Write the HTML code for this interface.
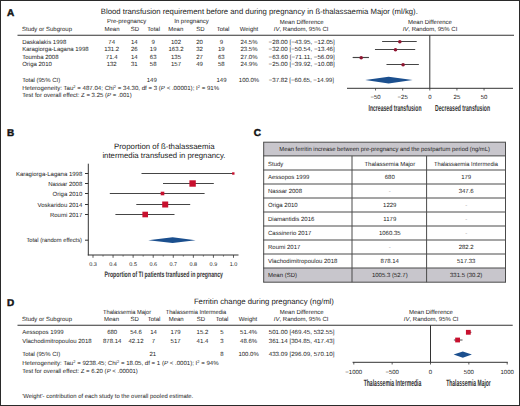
<!DOCTYPE html>
<html><head><meta charset="utf-8"><style>
html,body{margin:0;padding:0;background:#fff;}
#wrap{position:relative;width:520px;height:406px;overflow:hidden;background:#fff;}
svg{display:block;}
svg text{font-family:"Liberation Sans",sans-serif;text-rendering:geometricPrecision;}
</style></head><body><div id="wrap">
<svg width="520" height="406" viewBox="0 0 520 406">
<rect x="0.5" y="0.5" width="519" height="405" fill="#fff" stroke="#2a2a2a" stroke-width="1"/>
<g fill="#222">
<text x="7" y="15.6" font-size="10" fill="#111" font-weight="bold" stroke="#111" stroke-width="0.45">A</text>
<text x="100.8" y="13.8" font-size="7.75" textLength="317" lengthAdjust="spacingAndGlyphs">Blood transfusion requirement before and during pregnancy in ß-thalassaemia Major (ml/kg).</text>
<text x="126.6" y="23.4" font-size="6.0" text-anchor="middle">Pre-pregnancy</text>
<text x="191.5" y="23.4" font-size="6.0" text-anchor="middle">In pregnancy</text>
<text x="301.7" y="23.6" font-size="6.0" text-anchor="middle">Mean Difference</text>
<text x="430" y="23.6" font-size="6.0" text-anchor="middle">Mean Difference</text>
<text x="22" y="30.6" font-size="6.0">Study or Subgroup</text>
<text x="112" y="30.6" font-size="6.0" text-anchor="middle">Mean</text>
<text x="135" y="30.6" font-size="6.0" text-anchor="middle">SD</text>
<text x="153.7" y="30.6" font-size="6.0" text-anchor="middle">Total</text>
<text x="175.8" y="30.6" font-size="6.0" text-anchor="middle">Mean</text>
<text x="200.3" y="30.6" font-size="6.0" text-anchor="middle">SD</text>
<text x="223" y="30.6" font-size="6.0" text-anchor="middle">Total</text>
<text x="249" y="30.6" font-size="6.0" text-anchor="middle">Weight</text>
<text x="301.2" y="30.6" font-size="6.0" text-anchor="middle"><tspan font-style="italic">IV</tspan>, Random, 95% CI</text>
<text x="430" y="30.6" font-size="6.0" text-anchor="middle"><tspan font-style="italic">IV</tspan>, Random, 95% CI</text>
<line x1="17.5" y1="35.2" x2="514" y2="35.2" stroke="#333" stroke-width="1.1"/>
<text x="22.2" y="43.5" font-size="6.0">Daskalakis 1998</text>
<text x="111.7" y="43.5" font-size="6.0" text-anchor="middle">74</text>
<text x="134.3" y="43.5" font-size="6.0" text-anchor="middle">14</text>
<text x="153.2" y="43.5" font-size="6.0" text-anchor="middle">9</text>
<text x="176" y="43.5" font-size="6.0" text-anchor="middle">102</text>
<text x="199.5" y="43.5" font-size="6.0" text-anchor="middle">20</text>
<text x="221.3" y="43.5" font-size="6.0" text-anchor="middle">9</text>
<text x="249" y="43.5" font-size="6.0" text-anchor="middle">24.5%</text>
<text x="334.8" y="43.5" font-size="6.0" text-anchor="end" textLength="66.2" lengthAdjust="spacingAndGlyphs">−28.00 [−43.95, −12.05]</text>
<line x1="382.11425" y1="41.5" x2="416.72575" y2="41.5" stroke="#454545" stroke-width="1.15"/>
<circle cx="399.82" cy="41.7" r="1.8" fill="#8e1530"/>
<text x="22.2" y="51.15" font-size="6.0">Karagiorga-Lagana 1998</text>
<text x="111.7" y="51.15" font-size="6.0" text-anchor="middle">131.2</text>
<text x="134.3" y="51.15" font-size="6.0" text-anchor="middle">26</text>
<text x="153.2" y="51.15" font-size="6.0" text-anchor="middle">19</text>
<text x="176" y="51.15" font-size="6.0" text-anchor="middle">163.2</text>
<text x="199.5" y="51.15" font-size="6.0" text-anchor="middle">32</text>
<text x="221.3" y="51.15" font-size="6.0" text-anchor="middle">19</text>
<text x="249" y="51.15" font-size="6.0" text-anchor="middle">23.5%</text>
<text x="334.8" y="51.15" font-size="6.0" text-anchor="end" textLength="66.2" lengthAdjust="spacingAndGlyphs">−32.00 [−50.54, −13.46]</text>
<line x1="374.96410000000003" y1="49.5" x2="415.1959" y2="49.5" stroke="#454545" stroke-width="1.15"/>
<circle cx="395.48" cy="49.7" r="1.8" fill="#8e1530"/>
<text x="22.2" y="58.8" font-size="6.0">Toumba 2008</text>
<text x="111.7" y="58.8" font-size="6.0" text-anchor="middle">71.4</text>
<text x="134.3" y="58.8" font-size="6.0" text-anchor="middle">14</text>
<text x="153.2" y="58.8" font-size="6.0" text-anchor="middle">63</text>
<text x="176" y="58.8" font-size="6.0" text-anchor="middle">135</text>
<text x="199.5" y="58.8" font-size="6.0" text-anchor="middle">27</text>
<text x="221.3" y="58.8" font-size="6.0" text-anchor="middle">63</text>
<text x="249" y="58.8" font-size="6.0" text-anchor="middle">27.0%</text>
<text x="334.8" y="58.8" font-size="6.0" text-anchor="end" textLength="66.2" lengthAdjust="spacingAndGlyphs">−63.60 [−71.11, −56.09]</text>
<line x1="352.64565000000005" y1="57.5" x2="368.94235000000003" y2="57.5" stroke="#454545" stroke-width="1.15"/>
<circle cx="361.19399999999996" cy="57.7" r="1.8" fill="#8e1530"/>
<text x="22.2" y="66.45" font-size="6.0">Origa 2010</text>
<text x="111.7" y="66.45" font-size="6.0" text-anchor="middle">132</text>
<text x="134.3" y="66.45" font-size="6.0" text-anchor="middle">31</text>
<text x="153.2" y="66.45" font-size="6.0" text-anchor="middle">58</text>
<text x="176" y="66.45" font-size="6.0" text-anchor="middle">157</text>
<text x="199.5" y="66.45" font-size="6.0" text-anchor="middle">49</text>
<text x="221.3" y="66.45" font-size="6.0" text-anchor="middle">58</text>
<text x="249" y="66.45" font-size="6.0" text-anchor="middle">24.9%</text>
<text x="334.8" y="66.45" font-size="6.0" text-anchor="end" textLength="66.2" lengthAdjust="spacingAndGlyphs">−25.00 [−39.92, −10.08]</text>
<line x1="386.4868" y1="64.5" x2="418.8632" y2="64.5" stroke="#454545" stroke-width="1.15"/>
<circle cx="403.075" cy="64.7" r="1.8" fill="#8e1530"/>
<text x="22.2" y="81.8" font-size="6.0">Total (95% CI)</text>
<text x="151.8" y="81.8" font-size="6.0" text-anchor="middle">149</text>
<text x="221.5" y="81.8" font-size="6.0" text-anchor="middle">149</text>
<text x="249" y="81.8" font-size="6.0" text-anchor="middle">100.0%</text>
<text x="334.0" y="81.8" font-size="6.0" text-anchor="end" textLength="65.3" lengthAdjust="spacingAndGlyphs">−37.82 [−60.65, −14.99]</text>
<polygon points="365.2,80.1 388.6,76.69999999999999 412.6,80.1 388.6,83.5" fill="#1b4f8e"/>
<text x="22.2" y="89.7" font-size="6.0" textLength="197" lengthAdjust="spacingAndGlyphs">Heterogeneity: Tau<tspan font-size="4" dy="-2.2">2</tspan><tspan dy="2.2"> = 487.04; Chi</tspan><tspan font-size="4" dy="-2.2">2</tspan><tspan dy="2.2"> = 34.30, df = 3 (</tspan><tspan font-style="italic">P</tspan> &lt; .00001); I<tspan font-size="4" dy="-2.2">2</tspan><tspan dy="2.2"> = 91%</tspan></text>
<text x="22.2" y="97.1" font-size="6.0" textLength="109.5" lengthAdjust="spacingAndGlyphs">Test for overall effect: Z = 3.25 (<tspan font-style="italic">P</tspan> = .001)</text>
<line x1="429.8" y1="35.2" x2="429.8" y2="88.3" stroke="#333" stroke-width="1"/>
<line x1="347" y1="88.3" x2="513" y2="88.3" stroke="#333" stroke-width="1"/>
<line x1="375.55" y1="88.3" x2="375.55" y2="90.5" stroke="#333" stroke-width="0.8"/>
<text x="375.55" y="99" font-size="6.0" text-anchor="middle">−50</text>
<line x1="402.675" y1="88.3" x2="402.675" y2="90.5" stroke="#333" stroke-width="0.8"/>
<text x="402.675" y="99" font-size="6.0" text-anchor="middle">−25</text>
<line x1="429.8" y1="88.3" x2="429.8" y2="90.5" stroke="#333" stroke-width="0.8"/>
<text x="429.8" y="99" font-size="6.0" text-anchor="middle">0</text>
<line x1="456.925" y1="88.3" x2="456.925" y2="90.5" stroke="#333" stroke-width="0.8"/>
<text x="456.925" y="99" font-size="6.0" text-anchor="middle">25</text>
<line x1="484.05" y1="88.3" x2="484.05" y2="90.5" stroke="#333" stroke-width="0.8"/>
<text x="484.05" y="99" font-size="6.0" text-anchor="middle">50</text>
<text x="395" y="110.6" font-size="8.8" text-anchor="middle" fill="#333" font-weight="bold" textLength="53" lengthAdjust="spacingAndGlyphs">Increased transfusion</text>
<text x="462.6" y="110.6" font-size="8.8" text-anchor="middle" fill="#333" font-weight="bold" textLength="55" lengthAdjust="spacingAndGlyphs">Decreased transfusion</text>
<text x="7" y="135.9" font-size="10" fill="#111" font-weight="bold" stroke="#111" stroke-width="0.45">B</text>
<text x="164.3" y="148.8" font-size="7.8" text-anchor="middle" textLength="100.6" lengthAdjust="spacingAndGlyphs">Proportion of ß-thalassaemia</text>
<text x="163.9" y="157.6" font-size="7.8" text-anchor="middle" textLength="123" lengthAdjust="spacingAndGlyphs">intermedia transfused in pregnancy.</text>
<line x1="88.3" y1="163.7" x2="88.3" y2="255.4" stroke="#333" stroke-width="1"/>
<line x1="87.8" y1="255" x2="238.5" y2="255" stroke="#333" stroke-width="1"/>
<text x="82.3" y="175.6" font-size="6.0" text-anchor="end">Karagiorga-Lagana 1998</text>
<line x1="85" y1="173.5" x2="88.3" y2="173.5" stroke="#333" stroke-width="1"/>
<line x1="141.5" y1="173.5" x2="233.8" y2="173.5" stroke="#454545" stroke-width="1.1"/>
<rect x="232.10000000000002" y="172.3" width="2.4" height="2.4" fill="#c8102e"/>
<text x="82.3" y="185.6" font-size="6.0" text-anchor="end">Nassar 2008</text>
<line x1="85" y1="183.5" x2="88.3" y2="183.5" stroke="#333" stroke-width="1"/>
<line x1="163.0" y1="183.5" x2="213.8" y2="183.5" stroke="#454545" stroke-width="1.1"/>
<rect x="189.4" y="180.3" width="6.4" height="6.4" fill="#c8102e"/>
<text x="82.3" y="195.6" font-size="6.0" text-anchor="end">Origa 2010</text>
<line x1="85" y1="193.5" x2="88.3" y2="193.5" stroke="#333" stroke-width="1"/>
<line x1="109.8" y1="193.5" x2="204.6" y2="193.5" stroke="#454545" stroke-width="1.1"/>
<rect x="160.7" y="191.7" width="3.6" height="3.6" fill="#c8102e"/>
<text x="82.3" y="206.6" font-size="6.0" text-anchor="end">Voskaridou 2014</text>
<line x1="85" y1="204.5" x2="88.3" y2="204.5" stroke="#333" stroke-width="1"/>
<line x1="136.3" y1="204.5" x2="190.2" y2="204.5" stroke="#454545" stroke-width="1.1"/>
<rect x="162.2" y="201.5" width="6.0" height="6.0" fill="#c8102e"/>
<text x="82.3" y="216.6" font-size="6.0" text-anchor="end">Roumi 2017</text>
<line x1="85" y1="214.5" x2="88.3" y2="214.5" stroke="#333" stroke-width="1"/>
<line x1="115.4" y1="214.5" x2="174.5" y2="214.5" stroke="#454545" stroke-width="1.1"/>
<rect x="142.39999999999998" y="211.7" width="5.6" height="5.6" fill="#c8102e"/>
<text x="82.0" y="242.29999999999998" font-size="6.0" text-anchor="end" textLength="55.6" lengthAdjust="spacingAndGlyphs">Total (random effects)</text>
<line x1="85" y1="240.2" x2="88.3" y2="240.2" stroke="#333" stroke-width="1"/>
<polygon points="148.2,240.2 172.6,237.29999999999998 195.6,240.2 172.6,243.1" fill="#1b4f8e"/>
<line x1="93.0" y1="255" x2="93.0" y2="257.8" stroke="#333" stroke-width="0.8"/>
<text x="93.0" y="265.6" font-size="5.5" text-anchor="middle">0.3</text>
<line x1="113.07000000000001" y1="255" x2="113.07000000000001" y2="257.8" stroke="#333" stroke-width="0.8"/>
<text x="113.07000000000001" y="265.6" font-size="5.5" text-anchor="middle">0.4</text>
<line x1="133.14" y1="255" x2="133.14" y2="257.8" stroke="#333" stroke-width="0.8"/>
<text x="133.14" y="265.6" font-size="5.5" text-anchor="middle">0.5</text>
<line x1="153.21" y1="255" x2="153.21" y2="257.8" stroke="#333" stroke-width="0.8"/>
<text x="153.21" y="265.6" font-size="5.5" text-anchor="middle">0.6</text>
<line x1="173.27999999999997" y1="255" x2="173.27999999999997" y2="257.8" stroke="#333" stroke-width="0.8"/>
<text x="173.27999999999997" y="265.6" font-size="5.5" text-anchor="middle">0.7</text>
<line x1="193.35" y1="255" x2="193.35" y2="257.8" stroke="#333" stroke-width="0.8"/>
<text x="193.35" y="265.6" font-size="5.5" text-anchor="middle">0.8</text>
<line x1="213.42000000000002" y1="255" x2="213.42000000000002" y2="257.8" stroke="#333" stroke-width="0.8"/>
<text x="213.42000000000002" y="265.6" font-size="5.5" text-anchor="middle">0.9</text>
<line x1="233.48999999999998" y1="255" x2="233.48999999999998" y2="257.8" stroke="#333" stroke-width="0.8"/>
<text x="233.48999999999998" y="265.6" font-size="5.5" text-anchor="middle">1.0</text>
<line x1="103.035" y1="255" x2="103.035" y2="256.6" stroke="#333" stroke-width="0.6"/>
<line x1="123.10499999999999" y1="255" x2="123.10499999999999" y2="256.6" stroke="#333" stroke-width="0.6"/>
<line x1="143.175" y1="255" x2="143.175" y2="256.6" stroke="#333" stroke-width="0.6"/>
<line x1="163.245" y1="255" x2="163.245" y2="256.6" stroke="#333" stroke-width="0.6"/>
<line x1="183.315" y1="255" x2="183.315" y2="256.6" stroke="#333" stroke-width="0.6"/>
<line x1="203.385" y1="255" x2="203.385" y2="256.6" stroke="#333" stroke-width="0.6"/>
<line x1="223.455" y1="255" x2="223.455" y2="256.6" stroke="#333" stroke-width="0.6"/>
<text x="163.7" y="277.0" font-size="8.0" text-anchor="middle" fill="#333" font-weight="bold" textLength="118.4" lengthAdjust="spacingAndGlyphs">Proportion of TI patients tranfused in pregnancy</text>
<text x="253.8" y="135.9" font-size="10" fill="#111" font-weight="bold" stroke="#111" stroke-width="0.45">C</text>
<rect x="263.7" y="142.2" width="241.8" height="13.8" fill="#c8c6cc"/>
<rect x="263.7" y="268" width="241.8" height="14.2" fill="#c8c6cc"/>
<line x1="263.2" y1="142.2" x2="506.0" y2="142.2" stroke="#4a4a4a" stroke-width="1"/>
<line x1="263.2" y1="155.9" x2="506.0" y2="155.9" stroke="#4a4a4a" stroke-width="1"/>
<line x1="263.2" y1="170" x2="506.0" y2="170" stroke="#4a4a4a" stroke-width="1"/>
<line x1="263.2" y1="184" x2="506.0" y2="184" stroke="#4a4a4a" stroke-width="1"/>
<line x1="263.2" y1="198" x2="506.0" y2="198" stroke="#4a4a4a" stroke-width="1"/>
<line x1="263.2" y1="212" x2="506.0" y2="212" stroke="#4a4a4a" stroke-width="1"/>
<line x1="263.2" y1="226" x2="506.0" y2="226" stroke="#4a4a4a" stroke-width="1"/>
<line x1="263.2" y1="240" x2="506.0" y2="240" stroke="#4a4a4a" stroke-width="1"/>
<line x1="263.2" y1="254" x2="506.0" y2="254" stroke="#4a4a4a" stroke-width="1"/>
<line x1="263.2" y1="268" x2="506.0" y2="268" stroke="#4a4a4a" stroke-width="1"/>
<line x1="263.2" y1="282.2" x2="506.0" y2="282.2" stroke="#4a4a4a" stroke-width="1"/>
<line x1="263.7" y1="142.2" x2="263.7" y2="282.2" stroke="#4a4a4a" stroke-width="1"/>
<line x1="505.5" y1="142.2" x2="505.5" y2="282.2" stroke="#4a4a4a" stroke-width="1"/>
<line x1="352" y1="155.9" x2="352" y2="282.2" stroke="#4a4a4a" stroke-width="1"/>
<line x1="426.6" y1="155.9" x2="426.6" y2="282.2" stroke="#4a4a4a" stroke-width="1"/>
<text x="384.6" y="151.0" font-size="6.0" text-anchor="middle" textLength="210.6" lengthAdjust="spacingAndGlyphs">Mean ferritin increase between pre-pregnancy and the postpartum period (ng/mL)</text>
<text x="268" y="166.1" font-size="6.0">Study</text>
<text x="389.8" y="166.1" font-size="6.0" text-anchor="middle">Thalassemia Major</text>
<text x="466" y="166.1" font-size="6.0" text-anchor="middle" textLength="64" lengthAdjust="spacingAndGlyphs">Thalassaemia Intermedia</text>
<text x="268" y="179.2" font-size="6.0">Aessopos 1999</text>
<text x="389.8" y="179.2" font-size="6.0" text-anchor="middle">680</text>
<text x="466.2" y="179.2" font-size="6.0" text-anchor="middle">179</text>
<text x="268" y="193.2" font-size="6.0">Nassar 2008</text>
<text x="389.8" y="193.2" font-size="6.0" text-anchor="middle" fill="#aaa">-</text>
<text x="466.2" y="193.2" font-size="6.0" text-anchor="middle">347.6</text>
<text x="268" y="207.2" font-size="6.0">Origa 2010</text>
<text x="389.8" y="207.2" font-size="6.0" text-anchor="middle">1229</text>
<text x="466.2" y="207.2" font-size="6.0" text-anchor="middle" fill="#aaa">-</text>
<text x="268" y="221.2" font-size="6.0">Diamantidis 2016</text>
<text x="389.8" y="221.2" font-size="6.0" text-anchor="middle">1179</text>
<text x="466.2" y="221.2" font-size="6.0" text-anchor="middle" fill="#aaa">-</text>
<text x="268" y="235.2" font-size="6.0">Cassinerio 2017</text>
<text x="389.8" y="235.2" font-size="6.0" text-anchor="middle">1060.35</text>
<text x="466.2" y="235.2" font-size="6.0" text-anchor="middle" fill="#aaa">-</text>
<text x="268" y="249.2" font-size="6.0">Roumi 2017</text>
<text x="389.8" y="249.2" font-size="6.0" text-anchor="middle" fill="#aaa">-</text>
<text x="466.2" y="249.2" font-size="6.0" text-anchor="middle">282.2</text>
<text x="268" y="263.2" font-size="6.0">Vlachodimitropoulou 2018</text>
<text x="389.8" y="263.2" font-size="6.0" text-anchor="middle">878.14</text>
<text x="466.2" y="263.2" font-size="6.0" text-anchor="middle">517.33</text>
<text x="268" y="277.2" font-size="6.0">Mean (SD)</text>
<text x="389.8" y="277.2" font-size="6.0" text-anchor="middle">1005.3 (52.7)</text>
<text x="466.2" y="277.2" font-size="6.0" text-anchor="middle">331.5 (30.2)</text>
<text x="7" y="305.9" font-size="10" fill="#111" font-weight="bold" stroke="#111" stroke-width="0.45">D</text>
<text x="193.9" y="303.6" font-size="7.75" textLength="140" lengthAdjust="spacingAndGlyphs">Ferritin change during pregnancy (ng/ml)</text>
<text x="127.1" y="313.6" font-size="6.0" text-anchor="middle" textLength="48.2" lengthAdjust="spacingAndGlyphs">Thalassemia Major</text>
<text x="196" y="313.6" font-size="6.0" text-anchor="middle" textLength="60.5" lengthAdjust="spacingAndGlyphs">Thalassemia Intermedia</text>
<text x="301.7" y="314.2" font-size="6.0" text-anchor="middle">Mean Difference</text>
<text x="431" y="314.2" font-size="6.0" text-anchor="middle">Mean Difference</text>
<text x="22" y="320.9" font-size="6.0">Study or Subgroup</text>
<text x="111.5" y="320.9" font-size="6.0" text-anchor="middle">Mean</text>
<text x="134.6" y="320.9" font-size="6.0" text-anchor="middle">SD</text>
<text x="154" y="320.9" font-size="6.0" text-anchor="middle">Total</text>
<text x="176.2" y="320.9" font-size="6.0" text-anchor="middle">Mean</text>
<text x="201" y="320.9" font-size="6.0" text-anchor="middle">SD</text>
<text x="222" y="320.9" font-size="6.0" text-anchor="middle">Total</text>
<text x="248" y="320.9" font-size="6.0" text-anchor="middle">Weight</text>
<text x="301.2" y="320.9" font-size="6.0" text-anchor="middle"><tspan font-style="italic">IV</tspan>, Random, 95% CI</text>
<text x="431.2" y="320.9" font-size="6.0" text-anchor="middle"><tspan font-style="italic">IV</tspan>, Random, 95% CI</text>
<line x1="17.5" y1="325.2" x2="512.7" y2="325.2" stroke="#333" stroke-width="1.1"/>
<text x="22.2" y="334.0" font-size="6.0">Aessopos 1999</text>
<text x="112.2" y="334.0" font-size="6.0" text-anchor="middle">680</text>
<text x="136" y="334.0" font-size="6.0" text-anchor="middle">54.6</text>
<text x="153.5" y="334.0" font-size="6.0" text-anchor="middle">14</text>
<text x="175.6" y="334.0" font-size="6.0" text-anchor="middle">179</text>
<text x="202.4" y="334.0" font-size="6.0" text-anchor="middle">15.2</text>
<text x="222" y="334.0" font-size="6.0" text-anchor="middle">5</text>
<text x="248.6" y="334.0" font-size="6.0" text-anchor="middle">51.4%</text>
<text x="334.4" y="334.0" font-size="6.0" text-anchor="end" textLength="65.7" lengthAdjust="spacingAndGlyphs">501.00 [469.45, 532.55]</text>
<line x1="466.506815" y1="332.3" x2="471.346585" y2="332.3" stroke="#4d4d4d" stroke-width="1"/>
<rect x="465.9267" y="329.90000000000003" width="4.8" height="4.8" fill="#c8102e"/>
<text x="22.2" y="342.5" font-size="6.0">Vlachodimitropoulou 2018</text>
<text x="112.2" y="342.5" font-size="6.0" text-anchor="middle">878.14</text>
<text x="136" y="342.5" font-size="6.0" text-anchor="middle">42.12</text>
<text x="153.5" y="342.5" font-size="6.0" text-anchor="middle">7</text>
<text x="175.6" y="342.5" font-size="6.0" text-anchor="middle">517</text>
<text x="202.4" y="342.5" font-size="6.0" text-anchor="middle">41.4</text>
<text x="222" y="342.5" font-size="6.0" text-anchor="middle">3</text>
<text x="248.6" y="342.5" font-size="6.0" text-anchor="middle">48.6%</text>
<text x="334.4" y="342.5" font-size="6.0" text-anchor="end" textLength="65.7" lengthAdjust="spacingAndGlyphs">361.14 [304.85, 417.43]</text>
<line x1="453.881995" y1="340.0" x2="462.516881" y2="340.0" stroke="#4d4d4d" stroke-width="1"/>
<rect x="455.199438" y="337.6" width="4.8" height="4.8" fill="#c8102e"/>
<text x="22.2" y="356.4" font-size="6.0">Total (95% CI)</text>
<text x="152.8" y="356.4" font-size="6.0" text-anchor="middle">21</text>
<text x="222" y="356.4" font-size="6.0" text-anchor="middle">8</text>
<text x="248.6" y="356.4" font-size="6.0" text-anchor="middle">100.0%</text>
<text x="334.4" y="356.4" font-size="6.0" text-anchor="end" textLength="65.7" lengthAdjust="spacingAndGlyphs">433.09 [296.09, 570.10]</text>
<polygon points="453.6,354.6 462.8,351.5 471.9,354.6 462.8,357.70000000000005" fill="#1b4f8e"/>
<text x="22.2" y="365.3" font-size="6.0" textLength="196.5" lengthAdjust="spacingAndGlyphs">Heterogeneity: Tau<tspan font-size="4" dy="-2.2">2</tspan><tspan dy="2.2"> = 9238.45; Chi</tspan><tspan font-size="4" dy="-2.2">2</tspan><tspan dy="2.2"> = 18.05, df = 1 (</tspan><tspan font-style="italic">P</tspan> &lt; .0001); I<tspan font-size="4" dy="-2.2">2</tspan><tspan dy="2.2"> = 94%</tspan></text>
<text x="22.2" y="373.0" font-size="6.0">Test for overall effect: Z = 6.20 (<tspan font-style="italic">P</tspan> &lt; .00001)</text>
<text x="22.2" y="397.9" font-size="6.0" textLength="171" lengthAdjust="spacingAndGlyphs">'Weight'- contribution of each study to the overall pooled estimate.</text>
<line x1="430.5" y1="325.2" x2="430.5" y2="362.3" stroke="#333" stroke-width="1"/>
<line x1="352.6" y1="362.3" x2="507.8" y2="362.3" stroke="#333" stroke-width="1"/>
<line x1="353.8" y1="362.3" x2="353.8" y2="364.5" stroke="#333" stroke-width="0.8"/>
<text x="353.8" y="373.5" font-size="6.0" text-anchor="middle">−1000</text>
<line x1="392.15" y1="362.3" x2="392.15" y2="364.5" stroke="#333" stroke-width="0.8"/>
<text x="392.15" y="373.5" font-size="6.0" text-anchor="middle">−500</text>
<line x1="430.5" y1="362.3" x2="430.5" y2="364.5" stroke="#333" stroke-width="0.8"/>
<text x="430.5" y="373.5" font-size="6.0" text-anchor="middle">0</text>
<line x1="468.85" y1="362.3" x2="468.85" y2="364.5" stroke="#333" stroke-width="0.8"/>
<text x="468.85" y="373.5" font-size="6.0" text-anchor="middle">500</text>
<line x1="507.2" y1="362.3" x2="507.2" y2="364.5" stroke="#333" stroke-width="0.8"/>
<text x="507.2" y="373.5" font-size="6.0" text-anchor="middle">1000</text>
<text x="392.5" y="385.6" font-size="9.2" text-anchor="middle" fill="#333" font-weight="bold" textLength="57.7" lengthAdjust="spacingAndGlyphs">Thalassemia Intermedia</text>
<text x="468.5" y="385.6" font-size="9.2" text-anchor="middle" fill="#333" font-weight="bold" textLength="44.6" lengthAdjust="spacingAndGlyphs">Thalassemia Major</text>
</g>
</svg></div></body></html>
